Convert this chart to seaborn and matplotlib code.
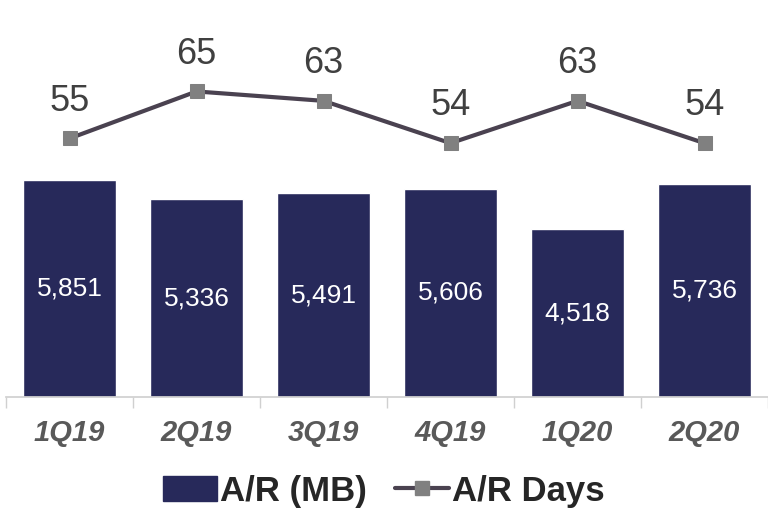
import pandas as pd
import seaborn as sns
import matplotlib.pyplot as plt
from matplotlib.lines import Line2D
from matplotlib.patches import Patch

quarters = ["1Q19", "2Q19", "3Q19", "4Q19", "1Q20", "2Q20"]
ar_mb = [5851, 5336, 5491, 5606, 4518, 5736]
ar_days = [55, 65, 63, 54, 63, 54]

BAR_COLOR = "#27295a"
LINE_COLOR = "#4a4250"
MARKER_COLOR = "#808080"

sns.set_theme(style="white")
plt.rcParams["font.family"] = ["Liberation Sans", "DejaVu Sans"]

df = pd.DataFrame({"quarter": quarters, "ar_mb": ar_mb, "ar_days": ar_days})

fig = plt.figure(figsize=(7.68, 5.12), dpi=100)
ax = fig.add_axes([6 / 768, 115 / 512, 762 / 768, 377 / 512])

sns.barplot(data=df, x="quarter", y="ar_mb", color=BAR_COLOR, width=0.74,
            saturation=1, ax=ax)
ax.set_ylim(0, 10160)
ax.set_xlim(-0.5, 5.45)

for i, v in enumerate(ar_mb):
    ax.text(i, v / 2, f"{v:,}", ha="center", va="center", color="white", fontsize=19)

ax2 = ax.twinx()
sns.lineplot(x=list(range(len(quarters))), y=ar_days, ax=ax2, color=LINE_COLOR,
             linewidth=3, marker="s", markersize=10, markerfacecolor=MARKER_COLOR,
             markeredgecolor=MARKER_COLOR)
ax2.set_ylim(0, 80.2)
ax2.set_xlim(-0.5, 5.45)
for i, v in enumerate(ar_days):
    ax2.text(i, v + 4.2, str(v), ha="center", va="bottom", color="#404040", fontsize=26)

for a in (ax, ax2):
    for s in ("top", "right", "left"):
        a.spines[s].set_visible(False)
    a.set_yticks([])
    a.set_ylabel("")
ax.spines["bottom"].set_color("#d0d0d0")
ax2.spines["bottom"].set_visible(False)

ax.set_xlabel("")
ax.set_xticks(range(len(quarters)))
ax.set_xticklabels(quarters, fontsize=21, fontweight="bold", fontstyle="italic",
                   color="#595959")
ax.tick_params(axis="x", which="major", length=0, pad=16)
ax.set_xticks([i - 0.5 for i in range(len(quarters) + 1)], minor=True)
ax.tick_params(axis="x", which="minor", length=8, color="#d0d0d0", width=1,
               direction="out", bottom=True)

handles = [
    Patch(facecolor=BAR_COLOR, edgecolor=BAR_COLOR, label="A/R (MB)"),
    Line2D([0], [0], color=LINE_COLOR, linewidth=3, marker="s", markersize=10,
           markerfacecolor=MARKER_COLOR, markeredgecolor=MARKER_COLOR, label="A/R Days"),
]
fig.legend(handles=handles, loc="center", bbox_to_anchor=(0.5, 21 / 512), ncol=2,
           frameon=False, prop={"size": 25, "weight": "bold"},
           handlelength=1.55, handleheight=0.75, handletextpad=0.1, columnspacing=0.8)

fig.savefig("out.png", dpi=100)
